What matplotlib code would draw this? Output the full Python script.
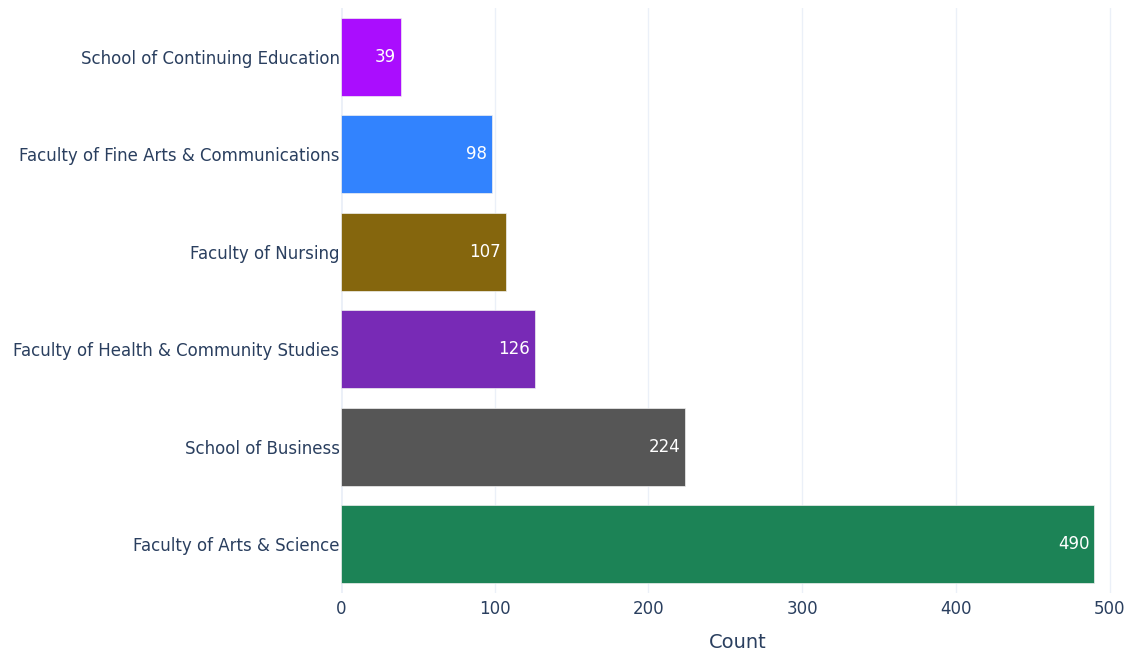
import matplotlib.pyplot as plt

schools = [
    "School of Continuing Education",
    "Faculty of Fine Arts & Communications",
    "Faculty of Nursing",
    "Faculty of Health & Community Studies",
    "School of Business",
    "Faculty of Arts & Science",
]
counts = [39, 98, 107, 126, 224, 490]
colors = ['#AA0DFE', '#3283FE', '#85660D', '#782AB6', '#565656', '#1C8356']

plt.rcParams['font.family'] = ['DejaVu Sans']
text_color = '#2a3f5f'
grid_color = '#ebf0f8'

fig = plt.figure(figsize=(11.29, 6.56), dpi=100)
# plot area spills a little past the right edge, as the original export did
ax = fig.add_axes([341 / 1129, 1 - 593 / 656, (1134 - 341) / 1129, (593 - 8) / 656])

pos = list(range(len(schools)))
bars = ax.barh(pos, counts, height=0.8, color=colors, edgecolor='#f0f0f0', linewidth=0.5, zorder=3)
for b, v in zip(bars, counts):
    ax.annotate(str(v), (b.get_width(), b.get_y() + b.get_height() / 2),
                xytext=(-3.5, 0), textcoords='offset points',
                ha='right', va='center', color='white', fontsize=12, zorder=4)

ax.set_xlim(0, 490 * 1.0526)
ax.set_ylim(len(schools) - 0.5, -0.5)
ax.set_yticks(pos)
ax.set_yticklabels(schools)
ax.set_xticks([0, 100, 200, 300, 400, 500])

ax.grid(axis='x', color=grid_color, linewidth=1, zorder=0)
ax.axvline(0, color=grid_color, linewidth=2, zorder=1)
for s in ax.spines.values():
    s.set_visible(False)
ax.tick_params(axis='both', length=0, colors=text_color, labelsize=12)
ax.tick_params(axis='x', pad=5)
ax.tick_params(axis='y', pad=1)
ax.set_xlabel("Count", color=text_color, fontsize=14, labelpad=11)

plt.savefig("out.png", dpi=100)
